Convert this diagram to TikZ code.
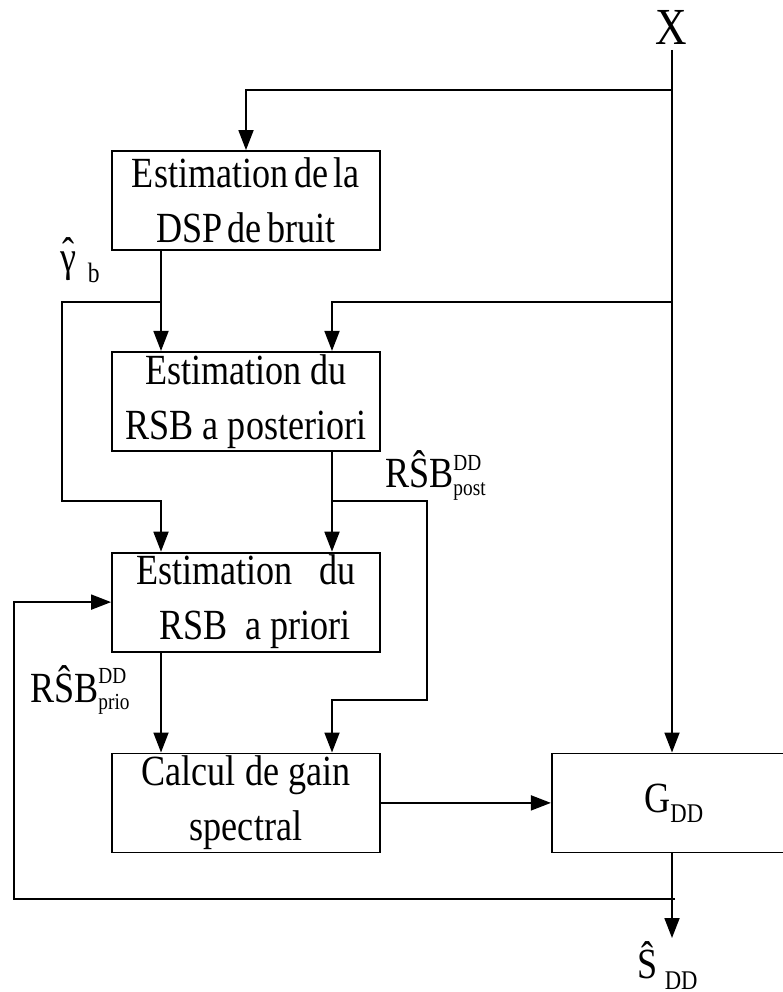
\documentclass[tikz,border=0pt]{standalone}
\usepackage{fontspec}
\setmainfont{Liberation Serif}
\usepackage{graphicx}
\usepackage{tikz}
\usetikzlibrary{arrows.meta,positioning,calc}
\newcommand\bigtxt{\fontsize{43}{55}\selectfont}
\newcommand\nx[1]{\scalebox{0.84}[1]{#1}}
\newcommand\supsub[4]{{\fontsize{23}{23}\selectfont\rlap{\raisebox{#3}{#1}}\raisebox{-#4}{#2}}}
\newcommand\hatover[1]{\ooalign{#1\cr\hidewidth\raisebox{4pt}{ˆ}\hidewidth\cr}}

\begin{document}
\begin{tikzpicture}[
  x=1pt,y=-1pt,
  node distance=100pt and 170pt,
  box/.style={draw,line width=1.8pt,minimum width=268pt,minimum height=99pt,inner sep=0pt,align=center,font=\bigtxt},
  arrow/.style={-{Triangle[length=20pt,width=15pt]},line width=1.8pt},
  lbl/.style={inner sep=0pt,anchor=base west,font=\bigtxt}
]
\useasboundingbox (0,0) rectangle (783,992);
% blocks
\node[box] (noise) at (246,200.5) {\nx{Estimation\hspace{-4pt} de\hspace{-4pt} la}\\\nx{DSP\hspace{-4pt} de\hspace{-4pt} bruit}};
\node[box,below=of noise] (post) {\nx{Estimation du}\\\nx{RSB a posteriori}};
\node[box,below=of post] (prio) {\nx{Estimation\ \ \ du}\\\nx{\ \ RSB\ \ a priori}};
\node[box,below=of prio] (gain) {\nx{Calcul de gain}\\\nx{spectral}};
\node[box,right=of gain,minimum width=244pt] (gdd) {\nx{G\raisebox{-10pt}{\fontsize{27}{27}\selectfont DD}}};
% signals
\node[inner sep=0pt,anchor=base west,font=\fontsize{52}{52}\selectfont] (X) at (655,45) {\nx{X}};
\node[lbl] (gamma) at (60,271) {\nx{\hatover{γ}\hspace{14pt}\raisebox{-11pt}{\fontsize{28}{28}\selectfont b}}};
\node[lbl] (rsbpost) at (385,487) {\nx{RŜB\supsub{DD}{post}{17pt}{8pt}}};
\node[lbl] (rsbprio) at (30,702) {\nx{RŜB\supsub{DD}{prio}{19pt}{7pt}}};
\node[lbl] (sdd) at (637,978) {\nx{Ŝ\hspace{9pt}\raisebox{-11pt}{\fontsize{27}{27}\selectfont DD}}};
% junctions
\coordinate (xin) at (672,50);
\coordinate (xa) at (672,90);
\coordinate (xb) at (672,302);
\coordinate (gj) at (161,302);
\coordinate (gl) at (62,302);
\coordinate (gd) at (62,501);
\coordinate (pj) at (332,501);
\coordinate (pr) at (427,501);
\coordinate (pd) at (427,700);
\coordinate (pk) at (332,700);
\coordinate (fb) at (672,899);
\coordinate (fl) at (14,899);
\coordinate (sout) at (672,938);
% connectors
\draw[arrow] (xin) -- (xin |- gdd.north);
\draw[arrow] (xa) -| (noise.north);
\draw[arrow] (xb) -| (post.north -| pk);
\draw[arrow] (noise.south -| gj) -- (post.north -| gj);
\draw[arrow] (gj) -- (gl) -- (gd) -| (prio.north -| gj);
\draw[arrow] (post.south -| pj) -- (prio.north -| pj);
\draw[arrow] (pj) -- (pr) -- (pd) -- (pk) -- (gain.north -| pk);
\draw[arrow] (prio.south -| gj) -- (gain.north -| gj);
\draw[arrow] (gain) -- (gdd);
\draw[arrow] (gdd.south -| fb) -- (sout);
\draw[arrow] ([xshift=3pt]fb) -- (fl) |- (prio.west);
\end{tikzpicture}
\end{document}
